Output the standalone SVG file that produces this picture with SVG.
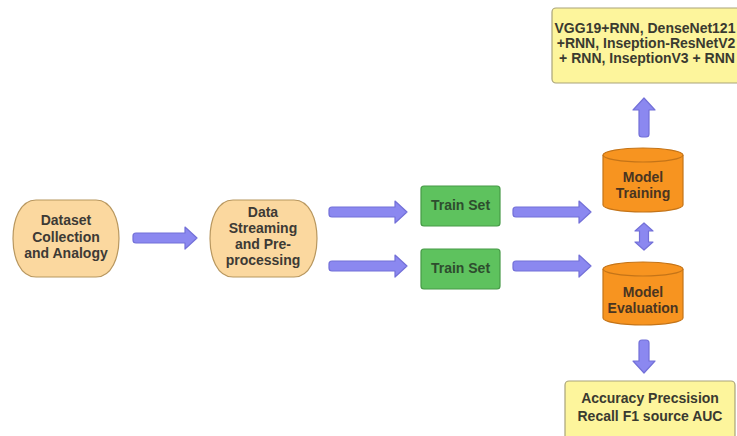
<svg xmlns="http://www.w3.org/2000/svg" width="737" height="436" viewBox="0 0 737 436">
<defs>
<style>
text{font-family:"Liberation Sans",Arial,sans-serif;font-weight:bold;font-size:14px;text-anchor:middle}
.peach{fill:#fbd89f;stroke:#b8975f;stroke-width:1.2}
.peach-t{fill:#3d3a35}
.green{fill:#5ec25e;stroke:#469a46;stroke-width:1.2}
.green-t{fill:#2e4d2e}
.orange{fill:#f79420;stroke:#c47418;stroke-width:1.2}
.orange-t{fill:#4a3520}
.yellow{fill:#fdf59c;stroke:#a9a37a;stroke-width:1.2}
.yellow-t{fill:#3a3a30}
.arrow{fill:#8b88f0;stroke:#7370d8;stroke-width:1.2;stroke-linejoin:round}
</style>
</defs>
<rect width="737" height="436" fill="#ffffff"/>

<g id="connectors">
<path class="arrow" d="M136 233 H185 V227 L197 238 L185 249 V243 H136 Q133 243 133 240 V236 Q133 233 136 233 Z"/>
<path class="arrow" d="M332 207 H395 V201 L407 212 L395 223 V217 H332 Q329 217 329 214 V210 Q329 207 332 207 Z"/>
<path class="arrow" d="M332 261 H395 V255 L407 266 L395 277 V271 H332 Q329 271 329 268 V264 Q329 261 332 261 Z"/>
<path class="arrow" d="M516 207 H579 V201 L591 212 L579 223 V217 H516 Q513 217 513 214 V210 Q513 207 516 207 Z"/>
<path class="arrow" d="M516 261 H579 V255 L591 266 L579 277 V271 H516 Q513 271 513 268 V264 Q513 261 516 261 Z"/>
<path class="arrow" d="M639 134 V110 H633 L644 98 L655 110 H649 V134 Q649 137 646 137 H642 Q639 137 639 134 Z"/>
<path class="arrow" d="M639 343 V361 H633 L644 373 L655 361 H649 V343 Q649 340 646 340 H642 Q639 340 639 343 Z"/>
<path class="arrow" d="M644 223 L653 231 H648.5 V242 H653 L644 250 L635 242 H639.5 V231 H635 Z"/>
</g>

<g id="node-dataset">
<path class="peach" d="M36 200 H96 C112 200 119 220 119 238.5 C119 257 112 277 96 277 H36 C20 277 13 257 13 238.5 C13 220 20 200 36 200 Z"/>
<text class="peach-t" x="66" y="225">Dataset</text>
<text class="peach-t" x="66" y="242">Collection</text>
<text class="peach-t" x="66" y="258">and Analogy</text>
</g>

<g id="node-preprocessing">
<path class="peach" d="M233 200 H294 C310 200 317 220 317 238.5 C317 257 310 277 294 277 H233 C217 277 210 257 210 238.5 C210 220 217 200 233 200 Z"/>
<text class="peach-t" x="263" y="217">Data</text>
<text class="peach-t" x="263" y="233">Streaming</text>
<text class="peach-t" x="263" y="249">and Pre-</text>
<text class="peach-t" x="263" y="265">processing</text>
</g>

<g id="node-trainset-1">
<rect class="green" x="421" y="186" width="79" height="40" rx="3"/>
<text class="green-t" x="460.5" y="210">Train Set</text>
</g>

<g id="node-trainset-2">
<rect class="green" x="421" y="249" width="79" height="40" rx="3"/>
<text class="green-t" x="460.5" y="273">Train Set</text>
</g>

<g id="node-model-training">
<path class="orange" d="M603 155 V205 A40 7 0 0 0 683 205 V155 A40 7 0 0 0 603 155 Z"/>
<path class="orange" d="M603 155 A40 7 0 0 0 683 155" fill="none"/>
<text class="orange-t" x="643" y="182">Model</text>
<text class="orange-t" x="643" y="198">Training</text>
</g>

<g id="node-model-evaluation">
<path class="orange" d="M603 269 V318 A40 7 0 0 0 683 318 V269 A40 7 0 0 0 603 269 Z"/>
<path class="orange" d="M603 269 A40 7 0 0 0 683 269" fill="none"/>
<text class="orange-t" x="643" y="297">Model</text>
<text class="orange-t" x="643" y="313">Evaluation</text>
</g>

<g id="node-models">
<rect class="yellow" x="552" y="8" width="205" height="75" rx="4"/>
<text class="yellow-t" x="645" y="33">VGG19+RNN, DenseNet121</text>
<text class="yellow-t" x="646" y="48">+RNN, Inseption-ResNetV2</text>
<text class="yellow-t" x="647" y="63">+ RNN, InseptionV3 + RNN</text>
</g>

<g id="node-metrics">
<rect class="yellow" x="565" y="381" width="170" height="62" rx="4"/>
<text class="yellow-t" x="650" y="403">Accuracy Precsision</text>
<text class="yellow-t" x="650" y="421">Recall F1 source AUC</text>
</g>
</svg>
